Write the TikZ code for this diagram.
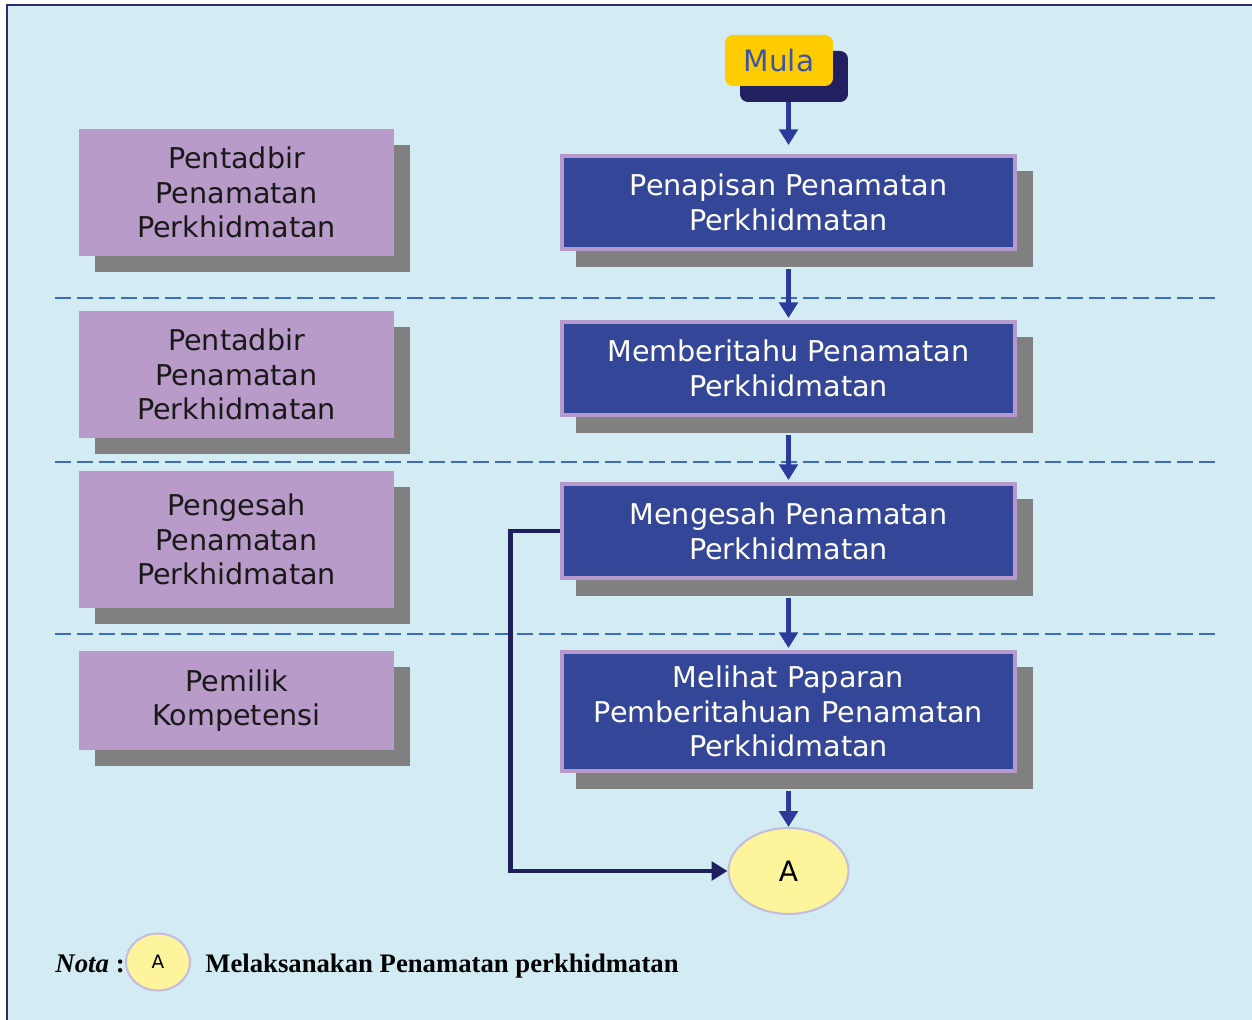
\documentclass[tikz,border=0pt]{standalone}
\usepackage{fontspec}
\setmainfont{DejaVu Sans}
\newfontfamily\notefont{Liberation Serif}
\usetikzlibrary{arrows.meta,shapes.geometric,shadows,calc}

\definecolor{bgblue}{HTML}{D3ECF3}
\definecolor{framenavy}{HTML}{2B2D6E}
\definecolor{sepblue}{HTML}{3C6BBF}
\definecolor{stepfill}{HTML}{344698}
\definecolor{stepedge}{HTML}{B59ACB}
\definecolor{rolefill}{HTML}{B89BC9}
\definecolor{shadowgray}{HTML}{808080}
\definecolor{startyellow}{HTML}{FFCC00}
\definecolor{startshadow}{HTML}{222060}
\definecolor{starttext}{HTML}{3D55A5}
\definecolor{arrowblue}{HTML}{2B3B9A}
\definecolor{loopnavy}{HTML}{1F1F5F}
\definecolor{connfill}{HTML}{FDF49B}
\definecolor{connedge}{HTML}{C5BDE0}

\tikzset{
  boxshadow/.style={drop shadow={shadow xshift=0.32cm, shadow yshift=-0.32cm,
      fill=shadowgray, opacity=1}},
  stepshadow/.style={drop shadow={shadow xshift=0.32cm, shadow yshift=-0.33cm,
      fill=shadowgray, draw=shadowgray, line width=2.2pt, opacity=1}},
  stepbox/.style={rectangle, fill=stepfill, draw=stepedge, line width=2.2pt,
      minimum width=9.06cm, text=white, align=center, inner sep=0pt,
      font=\fontsize{16.3pt}{19.8pt}\selectfont, stepshadow},
  rolebox/.style={rectangle, fill=rolefill, minimum width=6.3cm,
      text=black!90, align=center, inner sep=0pt,
      font=\fontsize{16.3pt}{19.8pt}\selectfont, boxshadow},
  startbox/.style={rectangle, rounded corners=4.5pt, fill=startyellow,
      minimum width=2.16cm, minimum height=1.02cm, text=starttext,
      inner sep=0pt, font=\fontsize{16.8pt}{20pt}\selectfont,
      drop shadow={shadow xshift=0.3cm, shadow yshift=-0.32cm,
      fill=startshadow, opacity=1}},
  connector/.style={ellipse, fill=connfill, draw=connedge, line width=1.2pt,
      inner sep=0pt},
  flowarrow/.style={draw=arrowblue, line width=2.8pt,
      -{Triangle[length=9pt,width=10.5pt]}},
  looparrow/.style={draw=loopnavy, line width=2.8pt,
      -{Triangle[length=9pt,width=10.5pt]}},
  lanesep/.style={draw=sepblue, line width=1.15pt,
      dash pattern=on 0.32cm off 0.12cm},
}

\begin{document}
\begin{tikzpicture}[x=0.02cm, y=-0.02cm]
  \useasboundingbox (0,0) rectangle (1252,1020);
  % page background and frame
  \fill[white] (0,0) rectangle (1252,1020);
  \draw[fill=bgblue, draw=framenavy, line width=1.2pt] (7,5) rectangle (1270,1040);

  % lane separators
  \draw[lanesep] (55,298) -- (1215,298);
  \draw[lanesep] (55,462) -- (1215,462);
  \draw[lanesep] (55,634) -- (1215,634);

  % roles
  \node[rolebox, minimum height=2.54cm] (r1) at (236.5,192.5)
    {Pentadbir\\Penamatan\\Perkhidmatan};
  \node[rolebox, minimum height=2.54cm] (r2) at (236.5,374.5)
    {Pentadbir\\Penamatan\\Perkhidmatan};
  \node[rolebox, minimum height=2.74cm] (r3) at (236.5,539.5)
    {Pengesah\\Penamatan\\Perkhidmatan};
  \node[rolebox, minimum height=1.98cm] (r4) at (236.5,700.5)
    {Pemilik\\Kompetensi};

  % start
  \node[startbox] (m) at (779,60.5) {Mula};

  % process steps
  \node[stepbox, minimum height=1.86cm] (b1) at (788.5,202.5)
    {Penapisan Penamatan\\Perkhidmatan};
  \node[stepbox, minimum height=1.86cm] (b2) at (788.5,368.5)
    {Memberitahu Penamatan\\Perkhidmatan};
  \node[stepbox, minimum height=1.88cm] (b3) at (788.5,531)
    {Mengesah Penamatan\\Perkhidmatan};
  \node[stepbox, minimum height=2.38cm] (b4) at (788.5,711.5)
    {Melihat Paparan\\Pemberitahuan Penamatan\\Perkhidmatan};

  % off-page connector
  \node[connector, minimum width=2.4cm, minimum height=1.72cm] (A) at (788.5,871)
    {\fontsize{16pt}{19pt}\selectfont A};

  % flow
  \coordinate (ms) at ([yshift=-0.32cm]m.south);
  \draw[flowarrow] (b1.north |- ms) -- ([yshift=0.18cm]b1.north);
  \draw[flowarrow] ([yshift=-0.36cm]b1.south) -- ([yshift=0.04cm]b2.north);
  \draw[flowarrow] ([yshift=-0.36cm]b2.south) -- ([yshift=0.04cm]b3.north);
  \draw[flowarrow] ([yshift=-0.36cm]b3.south) -- ([yshift=0.04cm]b4.north);
  \draw[flowarrow] ([yshift=-0.36cm]b4.south) -- (A.north);
  \draw[looparrow] (b3.west) -- ([xshift=-1cm]b3.west) |- (A.west);

  % note
  \node[anchor=base west, inner sep=0pt, font=\notefont\fontsize{15.3pt}{18pt}\selectfont]
    (notalabel) at (55,972) {\textbf{\textit{Nota}} \textbf{:}};
  \node[connector, minimum width=1.28cm, minimum height=1.14cm] (An) at (158,962)
    {\fontsize{10.5pt}{12pt}\selectfont A};
  \node[anchor=base west, inner sep=0pt, font=\notefont\bfseries\fontsize{15.2pt}{18pt}\selectfont]
    (notatext) at (205,972) {Melaksanakan Penamatan perkhidmatan};
\end{tikzpicture}
\end{document}
